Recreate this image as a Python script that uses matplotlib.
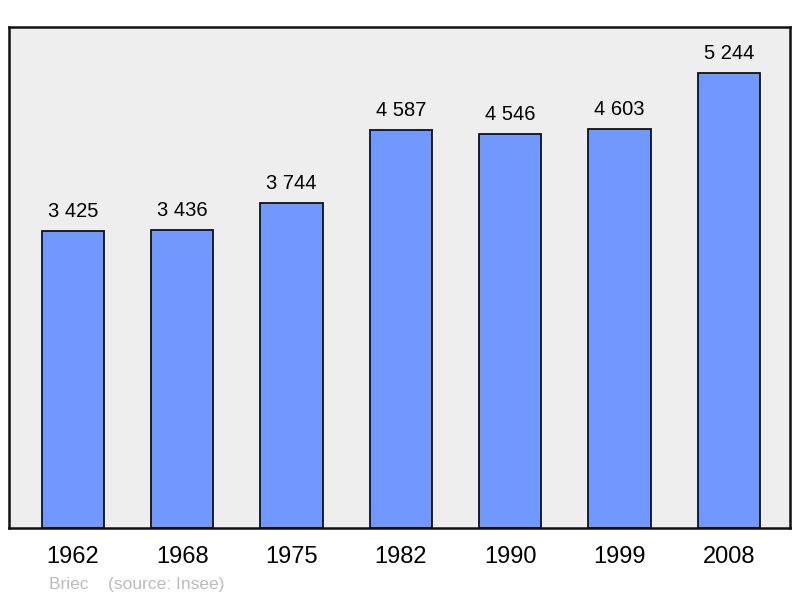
import matplotlib
matplotlib.use("Agg")
from matplotlib import pyplot as plt

years = ["1962", "1968", "1975", "1982", "1990", "1999", "2008"]
population = [3425, 3436, 3744, 4587, 4546, 4603, 5244]
labels = ["3 425", "3 436", "3 744", "4 587", "4 546", "4 603", "5 244"]

plt.rcParams["font.family"] = ["Liberation Sans", "DejaVu Sans"]

fig = plt.figure(figsize=(8, 5.98), dpi=100)
ax = fig.add_axes([9 / 800, 1 - 528 / 598, 781 / 800, 501 / 598])
ax.set_facecolor("#eeeeee")

x = list(range(len(years)))
ax.bar(x, population, width=0.57, color="#7098ff", edgecolor="#111111",
       linewidth=1.3, zorder=2)
for xi, v, lab in zip(x, population, labels):
    ax.text(xi, v + 115, lab, ha="center", va="bottom", fontsize=14.5)

ax.set_xlim(-0.585, 6.56)
ax.set_ylim(0, 5778)
ax.set_xticks(x)
ax.set_xticklabels(years, fontsize=17)
ax.tick_params(axis="x", length=0, pad=13)
ax.set_yticks([])
for s in ax.spines.values():
    s.set_linewidth(1.8)
    s.set_color("#111111")

fig.text(49 / 800, 1 - 584 / 598, "Briec    (source: Insee)", fontsize=12.5,
         color="#bbbbbb", va="center")

fig.savefig("out.png", dpi=100)
